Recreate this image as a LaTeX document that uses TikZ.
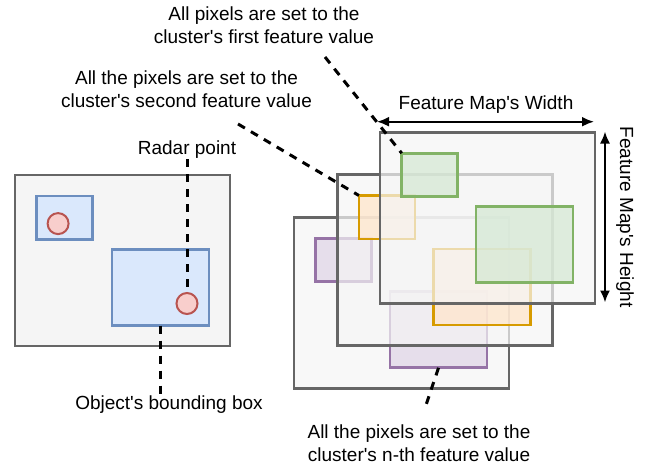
\documentclass[tikz,border=0pt]{standalone}
\usepackage{fontspec}
\setmainfont{Liberation Sans}[Ligatures=TeXOff]
\usetikzlibrary{arrows.meta}

\definecolor{framefill}{HTML}{F5F5F5}
\definecolor{frameline}{HTML}{666666}
\definecolor{bluefill}{HTML}{DAE8FC}
\definecolor{blueline}{HTML}{6C8EBF}
\definecolor{redfill}{HTML}{F8CECC}
\definecolor{redline}{HTML}{B85450}
\definecolor{grnfill}{HTML}{D5E8D4}
\definecolor{grnline}{HTML}{82B366}
\definecolor{orngfill}{HTML}{FFE6CC}
\definecolor{orngline}{HTML}{D79B00}
\definecolor{purpfill}{HTML}{E1D5E7}
\definecolor{purpline}{HTML}{9673A6}

\tikzset{
  mapbox/.style={draw=frameline, fill=framefill, line width=2.7pt, minimum width=215pt,
    minimum height=171pt, inner sep=0pt, outer sep=0pt, anchor=north west},
  smallbox/.style={draw=#1line, fill=#1fill, line width=2.7pt, minimum width=56pt,
    minimum height=43.5pt, inner sep=0pt, outer sep=0pt, anchor=north west},
  bigbox/.style={draw=#1line, fill=#1fill, line width=2.7pt, minimum width=97pt,
    minimum height=76pt, inner sep=0pt, outer sep=0pt, anchor=north west},
  radar/.style={circle, draw=redline, fill=redfill, line width=2pt, minimum size=21pt,
    inner sep=0pt, outer sep=0pt},
  leader/.style={draw=black, line width=3pt, dash pattern=on 8pt off 7pt},
  dim/.style={line width=2pt, {Latex[length=12pt,width=10pt]}-{Latex[length=12pt,width=10pt]}},
  note/.style={align=center, inner sep=0pt, font=\fontsize{19}{23}\selectfont}
}

\begin{document}
\begin{tikzpicture}[x=1pt, y=-1pt]
    \useasboundingbox (0,0) rectangle (649,466);

    % --- Input scene ---
    \node[mapbox] (scene) at (15,175) {};
    \node[smallbox=blue] (objA) at ([shift={(21.5,21)}]scene.north west) {};
    \node[bigbox=blue] (objB) at ([shift={(97,74.5)}]scene.north west) {};
    \node[radar] (ptA) at ([shift={(21.6,27.6)}]objA.north west) {};
    \node[radar] (ptB) at ([shift={(75,54)}]objB.north west) {};

    % --- Feature maps, front to back ---
    \foreach \i/\fx/\fy/\col in {1/294/217.3/purp, 2/337.2/174.5/orng, 3/380/132.2/grn} {
        \node[mapbox, fill opacity=0.7] (map\i) at (\fx,\fy) {};
        \node[smallbox=\col, fill opacity=0.75] (small\i) at ([shift={(21.7,21)}]map\i.north west) {};
        \node[bigbox=\col, fill opacity=0.75] (big\i) at ([shift={(96,74.5)}]map\i.north west) {};
    }

    % --- Labels ---
    \node[note] (first) at (264,25) {All pixels are set to the\\cluster's first feature value};
    \node[note] (second) at (186.5,89) {All the pixels are set to the\\cluster's second feature value};
    \node[note] (radartxt) at (187,150) {Radar point};
    \node[note] (bboxtxt) at (169,405) {Object's bounding box};
    \node[note] (nth) at (419,443.5) {All the pixels are set to the\\cluster's n-th feature value};
    \node[note] (widthtxt) at (486,105) {Feature Map's Width};
    \node[note, rotate=-90] (heighttxt) at (625,217) {Feature Map's Height};

    % --- Dimension arrows ---
    \coordinate (wl) at (377,121.7);
    \coordinate (wr) at (594,121.7);
    \coordinate (ht) at (605,131.5);
    \coordinate (hb) at (605,302.5);
    \draw[dim] (wl) -- (wr);
    \draw[dim] (ht) -- (hb);

    % --- Leader lines ---
    \coordinate (firsttail) at (325,57);
    \coordinate (secondtail) at (238,124);
    \coordinate (nthtail) at (425,408);
    \draw[leader] (firsttail) -- (small3.north west);
    \draw[leader] (secondtail) -- (small2.north west);
    \draw[leader] (ptB.north |- radartxt.south) -- (ptB.north);
    \draw[leader] (objB.south) -- ([yshift=-4]objB.south |- bboxtxt.north);
    \draw[leader] (big1.south) -- (nthtail);

\end{tikzpicture}
\end{document}
